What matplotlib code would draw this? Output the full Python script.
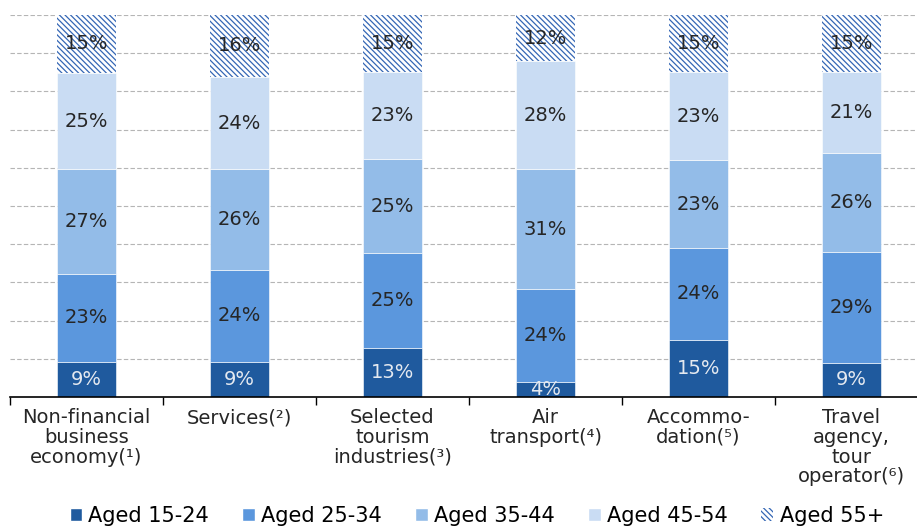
import numpy as np
import matplotlib
matplotlib.use("Agg")
import matplotlib.pyplot as plt
from matplotlib.patches import Patch

plt.rcParams['font.family'] = ['DejaVu Sans']
plt.rcParams['hatch.linewidth'] = 0.9

categories = [
    "Non-financial\nbusiness\neconomy(\u00b9)",
    "Services(\u00b2)",
    "Selected\ntourism\nindustries(\u00b3)",
    "Air\ntransport(\u2074)",
    "Accommo-\ndation(\u2075)",
    "Travel\nagency,\ntour\noperator(\u2076)",
]
series_names = ["Aged 15-24", "Aged 25-34", "Aged 35-44", "Aged 45-54", "Aged 55+"]
aged_15_24 = [9, 9, 13, 4, 15, 9]
aged_25_34 = [23, 24, 25, 24, 24, 29]
aged_35_44 = [27, 26, 25, 31, 23, 26]
aged_45_54 = [25, 24, 23, 28, 23, 21]
aged_55_plus = [15, 16, 15, 12, 15, 15]

colors = ["#1f5a9e", "#5b97dd", "#93bce8", "#c9dcf3", "white"]
label_colors = ["#e4e9f0", "#262626", "#262626", "#262626", "#262626"]
hatch_color = "#3567b5"
hatch = "\\" * 6

data = np.array([aged_15_24, aged_25_34, aged_35_44, aged_45_54, aged_55_plus], dtype=float)
shares = data / data.sum(axis=0) * 100  # 100% stacked

fig = plt.figure(figsize=(9.17, 5.26), dpi=100)
ax = fig.add_axes([10 / 917, 1 - 397 / 526, 918 / 917, (397 - 15) / 526])

x = np.arange(len(categories))
bottom = np.zeros(len(categories))
for i, name in enumerate(series_names):
    if i == 4:
        bars = ax.bar(x, shares[i], 0.39, bottom=bottom, color="white",
                      edgecolor=hatch_color, linewidth=0, hatch=hatch, zorder=3)
    else:
        bars = ax.bar(x, shares[i], 0.39, bottom=bottom, color=colors[i],
                      edgecolor="white", linewidth=0.4, zorder=3)
    for j, b in enumerate(bars):
        ax.text(x[j], bottom[j] + shares[i][j] / 2, f"{int(data[i][j])}%",
                ha="center", va="center", fontsize=14, color=label_colors[i], zorder=4)
    bottom += shares[i]

ax.set_xlim(-0.5, len(categories) - 0.5)
ax.set_ylim(0, 100)
ax.set_yticks(np.arange(10, 101, 10))
ax.yaxis.grid(True, linestyle=(0, (4, 2)), color="#b5b5b5", linewidth=0.8, zorder=0)
ax.tick_params(axis="y", left=False, labelleft=False)

ax.set_xticks(x)
ax.set_xticklabels(categories, fontsize=14, color="#262626", linespacing=1.05)
ax.set_xticks(np.arange(-0.5, len(categories), 1), minor=True)
ax.tick_params(axis="x", which="major", length=0, pad=8)
ax.tick_params(axis="x", which="minor", length=6, width=1, color="black", direction="out")

for side in ["left", "right", "top"]:
    ax.spines[side].set_visible(False)
ax.spines["bottom"].set_color("black")
ax.spines["bottom"].set_linewidth(1.2)
ax.spines["bottom"].set_zorder(5)

handles = [Patch(facecolor=colors[i], edgecolor="white", label=series_names[i]) for i in range(4)]
handles.append(Patch(facecolor="white", edgecolor=hatch_color, linewidth=0,
                     hatch=hatch, label=series_names[4]))
fig.legend(handles=handles, loc="center", bbox_to_anchor=(0.52, 1 - 516 / 526), ncol=5,
           frameon=False, fontsize=15, handlelength=0.6, handleheight=0.6,
           handletextpad=0.3, columnspacing=1.6)

fig.savefig("out.png", dpi=100)
